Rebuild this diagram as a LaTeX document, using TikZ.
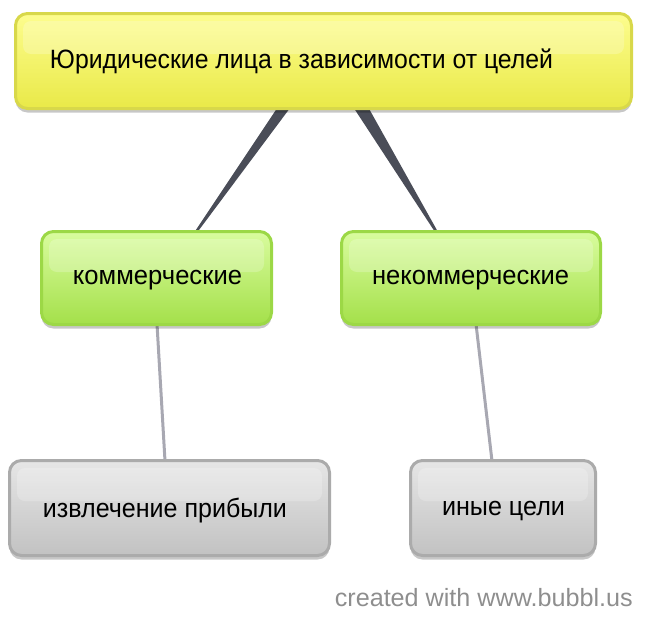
\documentclass[tikz,border=0pt]{standalone}
\usepackage{fontspec}
\setmainfont{Liberation Sans}
\usetikzlibrary{shadows,backgrounds,calc}
\definecolor{ytop}{HTML}{FDFD8E}
\definecolor{ybot}{HTML}{E9E948}
\definecolor{yline}{HTML}{D8D84A}
\definecolor{gtop}{HTML}{D9FC9E}
\definecolor{gbot}{HTML}{A4E04A}
\definecolor{gline}{HTML}{9CD846}
\definecolor{stop}{HTML}{E6E6E6}
\definecolor{sbot}{HTML}{C2C2C2}
\definecolor{sline}{HTML}{ABABAB}
\definecolor{darkcon}{HTML}{4A4D58}
\definecolor{lightcon}{HTML}{A8A8B2}
\definecolor{foot}{HTML}{8E8E8E}
\newcommand{\fitto}[2]{\resizebox{#1}{\height}{#2}}
\begin{document}
\begin{tikzpicture}[x=1pt,y=-1pt,
  box/.style={rounded corners=12pt, line width=3pt, inner sep=0pt,
    drop shadow={shadow xshift=0pt, shadow yshift=-4pt, opacity=0.22, fill=black}},
  ybox/.style={box, draw=yline, top color=ytop, bottom color=ybot},
  gbox/.style={box, draw=gline, top color=gtop, bottom color=gbot},
  sbox/.style={box, draw=sline, top color=stop, bottom color=sbot},
  gloss/.style={rounded corners=8pt, fill=white, fill opacity=0.22},
  lbl/.style={inner sep=0pt, font=\fontsize{26.5}{30}\selectfont, text=black},
  thick con/.style={fill=darkcon},
  thin con/.style={draw=lightcon, line width=3pt}
]
\useasboundingbox (0,0) rectangle (653,630);

% boxes
\node[ybox, minimum width=616pt, minimum height=95pt] (top) at (323.5,61) {};
\node[gbox, minimum width=230pt, minimum height=93pt] (com) at (156.5,278) {};
\node[gbox, minimum width=259pt, minimum height=93pt] (ncom) at (471,278) {};
\node[sbox, minimum width=320pt, minimum height=95pt] (profit) at (169.5,508) {};
\node[sbox, minimum width=185pt, minimum height=95pt] (other) at (503,508) {};

% gloss highlights
\foreach \n in {top,com,ncom,profit,other}{
  \fill[gloss] ($(\n.north west)+(9,9)$) rectangle ($(\n.north east)+(-9,42)$);
}

% connectors
\begin{pgfonlayer}{background}
  \coordinate (t1a) at ($(top.center)+(-45,45)$);
  \coordinate (t1b) at ($(top.center)+(-32,45)$);
  \coordinate (c1)  at ($(com.north)+(39.5,2)$);
  \fill[thick con] (t1a) -- (t1b) -- ($(c1)+(1.5,0)$) -- ($(c1)+(-1.5,0)$) -- cycle;
  \coordinate (t2a) at ($(top.center)+(29,45)$);
  \coordinate (t2b) at ($(top.center)+(44,45)$);
  \coordinate (c2)  at ($(ncom.north)+(-34.5,2)$);
  \fill[thick con] (t2a) -- (t2b) -- ($(c2)+(1.5,0)$) -- ($(c2)+(-1.5,0)$) -- cycle;
  \draw[thin con] ($(com.south)+(0.5,-2)$) -- ($(profit.north)+(-4.5,2)$);
  \draw[thin con] ($(ncom.south)+(5,-2)$) -- ($(other.north)+(-11,2)$);
\end{pgfonlayer}

% labels
\node[lbl] (toplbl) at (301.5,61) {\fitto{503pt}{Юридические лица в зависимости от целей}};
\node[lbl] (comlbl) at (157.5,280) {\fitto{169pt}{коммерческие}};
\node[lbl] (ncomlbl) at (470.5,280) {\fitto{197pt}{некоммерческие}};
\node[lbl] (profitlbl) at (165,511) {\fitto{244pt}{извлечение прибыли}};
\node[lbl] (otherlbl) at (503.5,511) {\fitto{123pt}{иные цели}};
\node[inner sep=0pt, anchor=east, text=foot, font=\fontsize{25}{28}\selectfont] (credit) at (633,598) {\fitto{298pt}{created with www.bubbl.us}};
\end{tikzpicture}
\end{document}
